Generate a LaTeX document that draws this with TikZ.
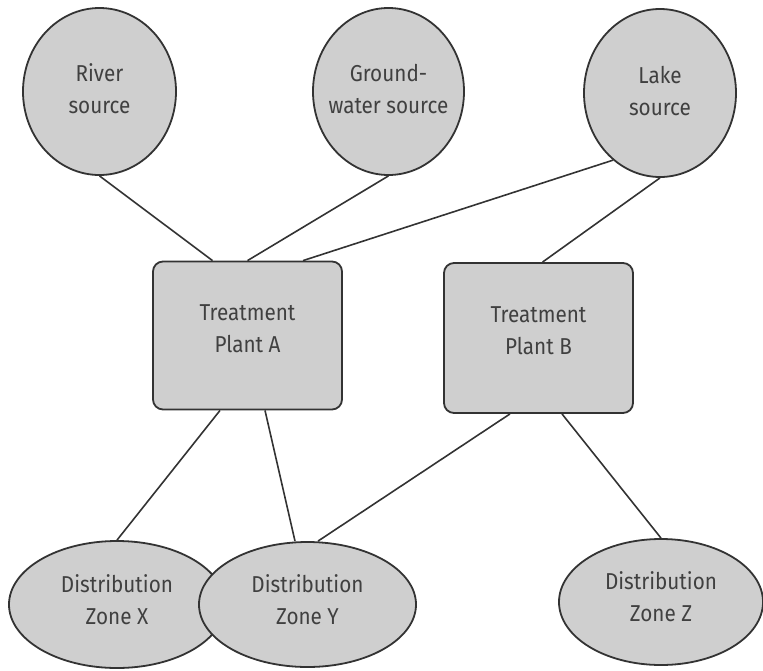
\documentclass[tikz,border=0pt]{standalone}
\usepackage{xcolor}
\usepackage{fontspec}
\setmainfont{Fira Sans}[FakeStretch=0.9]
\usepackage{tikz}
\usetikzlibrary{shapes.geometric, positioning}
\definecolor{nodegray}{HTML}{CFCFCF}
\definecolor{edgegraphite}{HTML}{333333}
\definecolor{labelgray}{HTML}{404040}

\begin{document}
\begin{tikzpicture}[x=1pt, y=-1pt,
    source/.style={ellipse, draw=edgegraphite, fill=nodegray, line width=1.8pt,
      inner xsep=-15pt, inner ysep=0pt, align=center, text=labelgray, text depth=5pt,
      font=\fontsize{23}{32}\selectfont},
    plant/.style={rectangle, rounded corners=10pt, draw=edgegraphite, fill=nodegray,
      line width=1.8pt, minimum width=189pt, minimum height=148pt, align=center,
      text=labelgray, text depth=14pt, font=\fontsize{23}{32}\selectfont},
    pipe/.style={edgegraphite, line width=1.6pt}]
    \useasboundingbox (0,0) rectangle (763,670);
    % Water sources
    \node[source, minimum width=153pt, minimum height=167pt] (river) at (99.5,91.5) {River\\source};
    \node[source, minimum width=151pt, minimum height=167pt] (ground) at (388.5,91.5) {Ground-\\water source};
    \node[source, minimum width=152pt, minimum height=168pt] (lake) at (660,93) {Lake\\source};
    % Treatment plants
    \node[plant] (plantA) at (247.5,335.5) {Treatment\\Plant A};
    \node[plant, minimum height=150pt] (plantB) at (538.5,338) {Treatment\\Plant B};
    % Distribution zones
    \node[source, text depth=10pt, minimum width=216pt, minimum height=127pt] (zoneX) at (117,604.5) {Distribution\\Zone X};
    \node[source, text depth=10pt, minimum width=217pt, minimum height=125pt] (zoneY) at (307.5,604.5) {Distribution\\Zone Y};
    \node[source, text depth=10pt, minimum width=204pt, minimum height=126pt] (zoneZ) at (661,602) {Distribution\\Zone Z};
    % Supply lines
    \draw[pipe] (river.south) -- ([xshift=-35pt]plantA.north);
    \draw[pipe] (ground.south) -- (plantA.north);
    \draw[pipe] (lake.235) -- ([xshift=55.5pt]plantA.north);
    \draw[pipe] (lake.south) -- ([xshift=4pt]plantB.north);
    \draw[pipe] ([xshift=-27.5pt]plantA.south) -- (zoneX.north);
    \draw[pipe] ([xshift=17.5pt]plantA.south) -- ([xshift=-12.5pt]zoneY.north);
    \draw[pipe] ([xshift=-28.5pt]plantB.south) -- ([xshift=10.5pt]zoneY.north);
    \draw[pipe] ([xshift=23.5pt]plantB.south) -- (zoneZ.north);
\end{tikzpicture}
\end{document}
